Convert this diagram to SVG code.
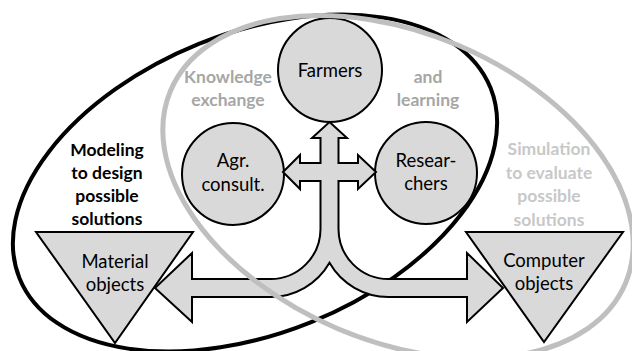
<svg xmlns="http://www.w3.org/2000/svg" width="632" height="351" viewBox="0 0 632 351">
<style>
.node{fill:#d9d9d9;stroke:#000;stroke-width:2}
.lbl{font-family:Lato,"Open Sans","Liberation Sans",sans-serif;font-size:18.5px;fill:#000;text-anchor:middle}
.ttl{font-family:Lato,"Open Sans","Liberation Sans",sans-serif;font-size:17.5px;font-weight:bold;text-anchor:middle}
</style>
<rect width="632" height="351" fill="#fff"/>
<g id="modeling-ellipse">
<ellipse cx="255" cy="183" rx="254" ry="150" transform="rotate(-22 255 183)" fill="none" stroke="#000" stroke-width="4"/>
</g>
<g id="farmers"><circle class="node" cx="330" cy="70" r="52"/><text class="lbl" x="330" y="77">Farmers</text></g>
<g id="agr-consult"><circle class="node" cx="233" cy="174" r="51"/><text class="lbl" x="233" y="167">Agr.</text><text class="lbl" x="233" y="191">consult.</text></g>
<g id="researchers"><circle class="node" cx="426" cy="173" r="51"/><text class="lbl" x="426" y="167">Resear-</text><text class="lbl" x="426" y="190">chers</text></g>
<g id="material-objects"><polygon class="node" points="36,232 193,232 115,343"/><text class="lbl" x="115" y="268">Material</text><text class="lbl" x="115" y="291">objects</text></g>
<g id="computer-objects"><polygon class="node" points="466,232 623,232 544,342"/><text class="lbl" x="544" y="267">Computer</text><text class="lbl" x="544" y="290">objects</text></g>
<g id="connectors">
<path class="node" stroke-linejoin="miter" d="M329.5,122 L347,138 L338.5,138 L338.5,163 L358,163 L358,155 L376,172 L358,189 L358,181 L338.5,181 L338.5,229 A50,50 0 0 0 388.5,279 L467,279 L467,253 L503,288 L467,322 L467,297 L388.5,297 A68,68 0 0 1 329.5,262.8 A68,68 0 0 1 270.5,297 L192,297 L192,322 L155,288 L192,253 L192,279 L270.5,279 A50,50 0 0 0 320.5,229 L320.5,181 L300,181 L300,189 L283,172 L300,155 L300,163 L320.5,163 L320.5,138 L312,138 Z"/>
</g>
<g id="simulation-ellipse">
<ellipse cx="398" cy="187" rx="247" ry="154" transform="rotate(23 398 187)" fill="none" stroke="#bfbfbf" stroke-width="5"/>
</g>
<g id="titles">
<text class="ttl" fill="#a6a6a6" x="228" y="83">Knowledge</text>
<text class="ttl" fill="#a6a6a6" x="228" y="106">exchange</text>
<text class="ttl" fill="#a6a6a6" x="428" y="83">and</text>
<text class="ttl" fill="#a6a6a6" x="428" y="106">learning</text>
<text class="ttl" fill="#000" x="107" y="156">Modeling</text>
<text class="ttl" fill="#000" x="107" y="179">to design</text>
<text class="ttl" fill="#000" x="107" y="202">possible</text>
<text class="ttl" fill="#000" x="107" y="225">solutions</text>
<text class="ttl" fill="#c8c8c8" x="549" y="155">Simulation</text>
<text class="ttl" fill="#c8c8c8" x="549" y="178.5">to evaluate</text>
<text class="ttl" fill="#c8c8c8" x="549" y="202">possible</text>
<text class="ttl" fill="#c8c8c8" x="549" y="225.5">solutions</text>
</g>
</svg>
